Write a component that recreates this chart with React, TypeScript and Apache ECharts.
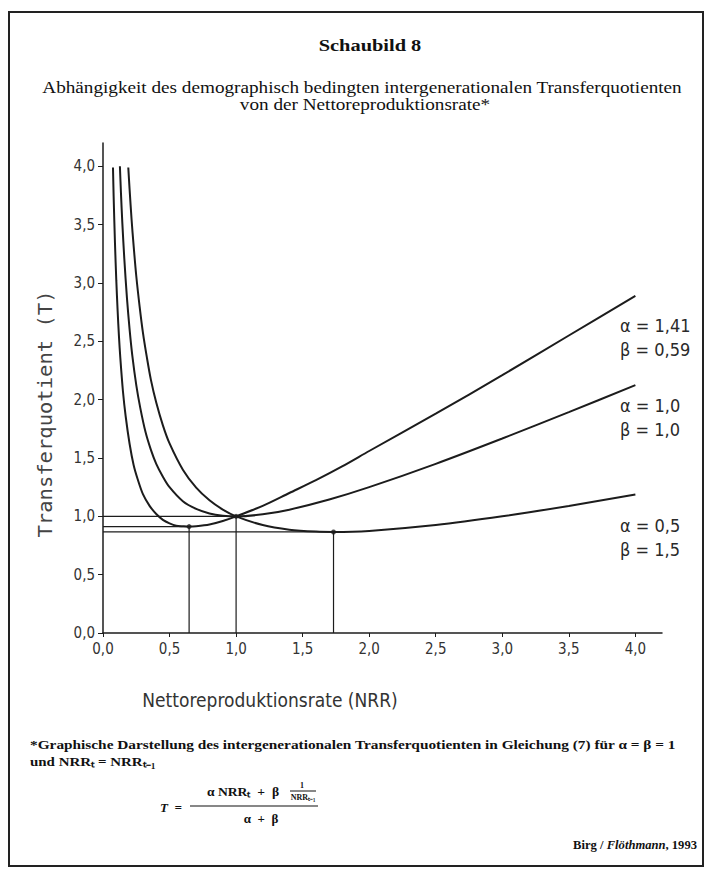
import React, { useEffect, useRef } from "react";
import * as echarts from "echarts";

// NRR (x) and transfer quotient T (y)
const curveA141: [number, number][] = [
  [0.075, 3.99], [0.08, 3.74], [0.09, 3.34], [0.1, 3.02], [0.11, 2.76], [0.12, 2.54],
  [0.13, 2.36], [0.15, 2.07], [0.17, 1.86], [0.2, 1.62], [0.23, 1.44], [0.26, 1.32],
  [0.3, 1.19], [0.35, 1.09], [0.4, 1.02], [0.45, 0.97], [0.5, 0.94], [0.55, 0.92],
  [0.6, 0.915], [0.647, 0.912], [0.7, 0.915], [0.8, 0.93], [0.9, 0.96], [1.0, 1.0],
  [1.2, 1.09], [1.4, 1.2], [1.6, 1.31], [1.8, 1.43], [2.0, 1.56], [2.5, 1.88],
  [3.0, 2.21], [3.5, 2.55], [4.0, 2.89],
];
const curveA10: [number, number][] = [
  [0.127, 4.0], [0.135, 3.77], [0.145, 3.52], [0.16, 3.21], [0.18, 2.87], [0.2, 2.6],
  [0.22, 2.38], [0.25, 2.125], [0.28, 1.93], [0.32, 1.72], [0.36, 1.57], [0.4, 1.45],
  [0.45, 1.34], [0.5, 1.25], [0.6, 1.13], [0.7, 1.064], [0.8, 1.025], [0.9, 1.006],
  [1.0, 1.0], [1.2, 1.017], [1.4, 1.057], [1.7, 1.144], [2.0, 1.25], [2.5, 1.45],
  [3.0, 1.667], [3.5, 1.893], [4.0, 2.125],
];
const curveA05: [number, number][] = [
  [0.19, 3.99], [0.2, 3.8], [0.215, 3.54], [0.23, 3.32], [0.25, 3.06], [0.275, 2.8],
  [0.3, 2.575], [0.33, 2.36], [0.36, 2.17], [0.4, 1.975], [0.45, 1.78], [0.5, 1.625],
  [0.6, 1.4], [0.7, 1.246], [0.8, 1.1375], [0.9, 1.058], [1.0, 1.0], [1.2, 0.925],
  [1.4, 0.886], [1.6, 0.869], [1.732, 0.866], [2.0, 0.875], [2.5, 0.925], [3.0, 1.0],
  [3.5, 1.089], [4.0, 1.1875],
];
// minima / intersection points
const markX = [0.647, 1.0, 1.732];
const markY = [0.912, 1.0, 0.866];

const tickValues = [0, 0.5, 1.0, 1.5, 2.0, 2.5, 3.0, 3.5, 4.0];
const curveLabels = [
  ["α = 1,41", "β = 0,59"],
  ["α = 1,0", "β = 1,0"],
  ["α = 0,5", "β = 1,5"],
];

const INK = "#1c1c1c";
const SANS = "'DejaVu Sans Condensed', 'DejaVu Sans', sans-serif";
const SERIF = "'Liberation Serif', 'Times New Roman', serif";

export default function App() {
  const ref = useRef<HTMLDivElement>(null);
  useEffect(() => {
    if (!ref.current) return;
    const chart = echarts.init(ref.current, null, { renderer: "svg" });
    const fmt = (v: number) => v.toFixed(1).replace(".", ",");

    const curveSeries = [curveA141, curveA10, curveA05].map((d) => ({
      type: "line",
      data: d,
      showSymbol: false,
      smooth: 0.3,
      lineStyle: { color: INK, width: 2 },
      z: 3,
    }));
    const refSeries: any[] = [];
    markX.forEach((mx, i) => {
      refSeries.push({
        type: "line",
        data: [[0, markY[i]], [mx, markY[i]]],
        showSymbol: false,
        lineStyle: { color: INK, width: 1.2 },
        z: 2,
      });
      refSeries.push({
        type: "line",
        data: [[mx, 0], [mx, markY[i]]],
        showSymbol: false,
        lineStyle: { color: INK, width: 1.2 },
        z: 2,
      });
    });
    refSeries.push({
      type: "scatter",
      data: markX.map((mx, i) => [mx, markY[i]]),
      symbolSize: 5,
      itemStyle: { color: INK },
      z: 4,
    });

    const labelYs = [[327, 351], [407, 431], [527, 551]];
    const labelGraphics: any[] = [];
    curveLabels.forEach((pair, i) => {
      pair.forEach((t, j) => {
        labelGraphics.push({
          type: "text",
          left: 620,
          top: labelYs[i][j] - 11,
          style: { text: t, font: `18px ${SANS}`, fill: "#2a2a2a" },
        });
      });
    });

    const ctext = (text: string, x: number, y: number, font: string, sx = 1, align = "center") => ({
      type: "text",
      x,
      y,
      scaleX: sx,
      style: { text, font, fill: "#111", align, verticalAlign: "middle" },
    });

    chart.setOption({
      animation: false,
      backgroundColor: "#ffffff",
      grid: { left: 103, right: 46, top: 143, bottom: 239 },
      xAxis: {
        type: "value",
        min: 0,
        max: 4.2,
        interval: 0.5,
        splitLine: { show: false },
        axisLine: { show: true, lineStyle: { color: INK, width: 1.5 } },
        axisTick: { show: true, length: 4, customValues: tickValues, lineStyle: { color: INK } },
        axisLabel: {
          customValues: tickValues,
          formatter: fmt,
          color: "#333",
          fontSize: 15,
          fontFamily: SANS,
          margin: 8,
        },
      },
      yAxis: {
        type: "value",
        min: 0,
        max: 4.2,
        interval: 0.5,
        splitLine: { show: false },
        axisLine: { show: true, lineStyle: { color: INK, width: 1.5 } },
        axisTick: { show: true, length: 5, customValues: tickValues, lineStyle: { color: INK } },
        axisLabel: {
          customValues: tickValues,
          formatter: fmt,
          color: "#333",
          fontSize: 15,
          fontFamily: SANS,
          margin: 8,
        },
      },
      series: [...curveSeries, ...refSeries],
      graphic: [
        {
          type: "rect",
          shape: { x: 9, y: 12, width: 694, height: 854 },
          style: { fill: "none", stroke: "#222", lineWidth: 2 },
          silent: true,
        },
        ctext("Schaubild 8", 370, 45, `bold 17px ${SERIF}`, 1.2),
        ctext(
          "Abhängigkeit des demographisch bedingten intergenerationalen Transferquotienten",
          362,
          88,
          `16px ${SERIF}`,
          1.2
        ),
        ctext("von der Nettoreproduktionsrate*", 365, 105, `16px ${SERIF}`, 1.2),
        {
          type: "text",
          x: 46,
          y: 414,
          rotation: Math.PI / 2,
          scaleX: 1.08,
          style: {
            text: "Transferquotient (T)",
            font: `19px 'DejaVu Sans Mono', monospace`,
            fill: "#444",
            align: "center",
            verticalAlign: "middle",
          },
        },
        {
          type: "text",
          x: 270,
          y: 700,
          style: {
            text: "Nettoreproduktionsrate (NRR)",
            font: `19px ${SANS}`,
            fill: "#333",
            align: "center",
            verticalAlign: "middle",
          },
        },
        ...labelGraphics,
        ctext(
          "*Graphische Darstellung des intergenerationalen Transferquotienten in Gleichung (7) für α = β = 1",
          30,
          744,
          `bold 13px ${SERIF}`,
          1.18,
          "left"
        ),
        ctext("und NRR\u209C = NRR\u209C\u208B\u2081", 30, 762, `bold 13px ${SERIF}`, 1.15, "left"),
        ctext("T  =", 160, 807, `bold italic 13px ${SERIF}`, 1, "left"),
        ctext("α NRR\u209C  +  β", 243, 792, `bold 13px ${SERIF}`, 1.05),
        ctext("1", 302, 785, `bold 8px ${SERIF}`),
        {
          type: "line",
          shape: { x1: 290, y1: 791, x2: 316, y2: 791 },
          style: { stroke: "#111", lineWidth: 1 },
        },
        ctext("NRR\u209C\u208B\u2081", 303, 797, `bold 8px ${SERIF}`),
        {
          type: "line",
          shape: { x1: 190, y1: 806, x2: 318, y2: 806 },
          style: { stroke: "#111", lineWidth: 1.2 },
        },
        ctext("α  +  β", 261, 818, `bold 13px ${SERIF}`),
        {
          type: "text",
          x: 697,
          y: 845,
          scaleX: 1.05,
          style: {
            text: "{a|Birg / }{b|Flöthmann}{a|, 1993}",
            align: "right",
            verticalAlign: "middle",
            fill: "#111",
            rich: {
              a: { font: `bold 12px ${SERIF}`, fill: "#111" },
              b: { font: `bold italic 12px ${SERIF}`, fill: "#111" },
            },
          },
        },
      ],
    });
    return () => chart.dispose();
  }, []);
  return (
    <div
      ref={ref}
      style={{ position: "absolute", left: 0, top: 0, width: 708, height: 872 }}
    />
  );
}
